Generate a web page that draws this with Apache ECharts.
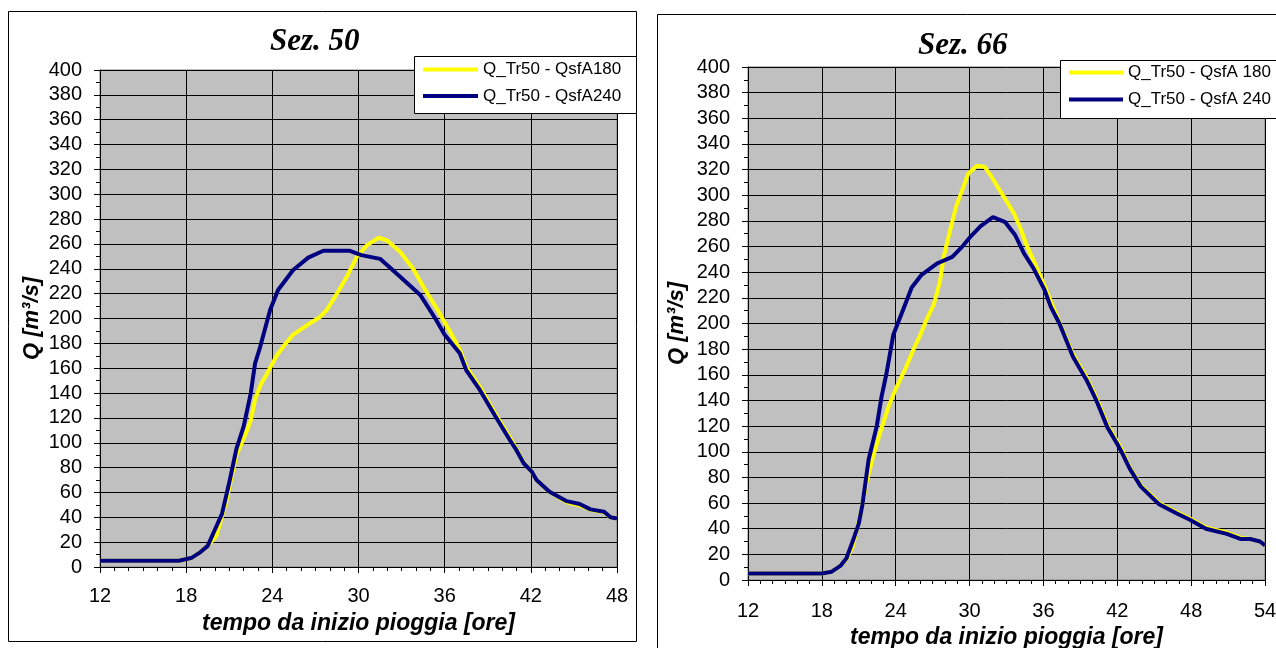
<!DOCTYPE html>
<html>
<head>
<meta charset="utf-8">
<script src="https://cdn.jsdelivr.net/npm/echarts@6/dist/echarts.min.js"></script>
<style>html,body{margin:0;padding:0;background:#fff;}#c{width:1276px;height:648px;}</style>
</head>
<body>
<div id="c"></div>
<script>
// ---- Data: Sez. 50 ----
const sez50Name180 = 'Q_Tr50 - QsfA180';
const sez50Name240 = 'Q_Tr50 - QsfA240';
const sez50T180 = [12, 17.5, 18.4, 19, 19.5, 20.1, 20.8, 21.5, 22.1, 22.5, 22.8, 23.2, 23.6, 24.3, 24.8, 25.45, 26.1, 26.6, 27.3, 27.8, 28.5, 29.2, 29.9, 30.6, 31.4, 31.97, 32.9, 33.8, 34.6, 35.45, 36.4, 37.05, 37.5, 38.45, 39.5, 40.55, 41, 41.5, 42.05, 42.4, 43.3, 44.5, 45.4, 46.15, 47.1, 47.55, 48];
const sez50Q180 = [5, 5, 7.5, 12, 17, 25, 53, 90, 106, 118, 135, 147, 155, 170, 178, 187, 192, 196, 201, 207, 220, 234, 250, 259, 265, 263, 253.7, 240, 224, 208, 189, 175, 161, 145, 124, 104, 95, 84, 77, 70, 60.6, 52, 49.5, 46, 44, 40, 39];
const sez50T240 = [12, 17.5, 18.4, 19, 19.5, 20, 20.5, 21, 21.5, 22, 22.5, 22.8, 23.15, 23.85, 24.4, 25.45, 26.5, 27.55, 29.4, 30.2, 31.5, 32.9, 34.3, 35.4, 36, 37.05, 37.5, 38.45, 39.5, 40.55, 41, 41.5, 42.05, 42.4, 43.3, 44.5, 45.4, 46.15, 47.1, 47.55, 48];
const sez50Q240 = [5, 5, 7.5, 12, 17, 30, 43, 68, 95, 113, 140, 164, 177, 207, 223, 239, 249, 254.5, 254.5, 251, 248, 233.6, 219, 199, 187, 172, 158.5, 142.5, 122, 102, 94, 83.5, 77, 70, 60.6, 53, 50.7, 46.4, 44.5, 40, 39];

// ---- Data: Sez. 66 ----
const sez66Name180 = 'Q_Tr50 - QsfA 180';
const sez66Name240 = 'Q_Tr50 - QsfA 240';
const sez66T180 = [12, 18, 18.8, 19.5, 20, 20.5, 21.1, 21.6, 22.1, 22.8, 23.45, 24.1, 24.8, 25.45, 25.9, 26.6, 27.1, 27.6, 27.9, 28.4, 28.9, 29.4, 29.9, 30.6, 31.25, 31.75, 32.25, 32.9, 33.6, 34.1, 34.6, 35.2, 36.07, 36.7, 37.3, 38.4, 39.5, 40.3, 41.2, 42, 42.4, 43, 43.9, 45.4, 46.8, 47.9, 49.2, 50.9, 52, 52.8, 53.6, 54];
const sez66Q180 = [5, 5, 6.5, 11, 16, 26, 49, 75, 94, 117, 136, 151, 165, 180, 189, 205, 215, 233, 252, 272, 291, 304, 317, 323, 322, 315, 307, 297, 286, 275, 262, 249, 230, 215, 201, 176, 158, 142, 121, 108, 101, 88, 74, 60, 53, 48, 41, 37, 33, 32, 30, 27];
const sez66T240 = [12, 18, 18.8, 19.5, 20, 20.5, 21, 21.3, 21.8, 22.46, 22.85, 23.25, 23.8, 24.45, 25.3, 26.1, 27.4, 28.6, 29.5, 30.1, 30.9, 31.9, 32.9, 33.7, 34.4, 35.2, 36.1, 36.6, 37.3, 38.4, 39.5, 40.3, 41.2, 42, 42.4, 43, 43.9, 45.4, 46.8, 47.9, 49.2, 50.9, 52, 52.8, 53.6, 54];
const sez66Q240 = [5, 5, 6.5, 11, 17, 30, 44, 59, 94, 120, 143, 161, 191, 207, 228, 238, 247, 252, 261, 268, 276, 283, 279, 269, 255, 243, 226, 213, 200, 174, 156, 140, 119, 106, 99, 87, 73, 59, 52, 47, 40, 36, 32, 32, 30, 27];

// ---- Text ----
const titles = ['Sez. 50', 'Sez. 66'];
const xName = 'tempo da inizio pioggia [ore]';
const yName = 'Q [m³/s]';
const xMaxes = [48, 54];

function pairs(t, q) { return t.map((x, i) => [x, q[i]]); }

const FONT = 'Liberation Sans, Arial, sans-serif';
const SERIF = 'Liberation Serif, Times New Roman, serif';
const YELLOW = '#FFFF00';
const NAVY = '#000080';

function xAxis(idx, nameGap, margin) {
  return {
    type: 'value', gridIndex: idx, min: 12, max: xMaxes[idx], interval: 6,
    name: xName, nameLocation: 'middle', nameGap: nameGap,
    nameTextStyle: { fontFamily: FONT, fontSize: 23, fontWeight: 'bold', fontStyle: 'italic', color: '#000' },
    axisLine: { show: true, onZero: false, lineStyle: { color: '#000', width: 1 } },
    axisTick: { show: true, inside: false, length: 6, lineStyle: { color: '#000' } },
    minorTick: { show: true, splitNumber: 6, length: 4, lineStyle: { color: '#000' } },
    axisLabel: { fontFamily: FONT, fontSize: 20, color: '#000', margin: margin },
    splitLine: { show: true, lineStyle: { color: '#000', width: 1 } },
    minorSplitLine: { show: false }
  };
}
function yAxis(idx, nameGap) {
  return {
    type: 'value', gridIndex: idx, min: 0, max: 400, interval: 20,
    name: yName, nameLocation: 'middle', nameGap: nameGap, nameRotate: 90,
    nameTextStyle: { fontFamily: FONT, fontSize: 22, fontWeight: 'bold', fontStyle: 'italic', color: '#000' },
    axisLine: { show: true, onZero: false, lineStyle: { color: '#000', width: 1 } },
    axisTick: { show: true, inside: false, length: 6, lineStyle: { color: '#000' } },
    minorTick: { show: true, splitNumber: 2, length: 4, lineStyle: { color: '#000' } },
    axisLabel: { fontFamily: FONT, fontSize: 20, color: '#000', margin: 18 },
    splitLine: { show: true, lineStyle: { color: '#000', width: 1 } },
    minorSplitLine: { show: false }
  };
}
function legend(names, left, top, itemWidth, gap) {
  return {
    data: names, orient: 'vertical', left: left, top: top, padding: 0,
    icon: 'rect', itemWidth: itemWidth, itemHeight: 4, itemGap: gap,
    selectedMode: false, z: 10,
    textStyle: { fontFamily: FONT, fontSize: 17, lineHeight: 18, color: '#000' }
  };
}
function line(name, x, y, data, color) {
  return {
    type: 'line', name: name, xAxisIndex: x, yAxisIndex: y, data: data,
    showSymbol: false, symbol: 'none', smooth: false, animation: false,
    lineStyle: { color: color, width: 4 }, itemStyle: { color: color }
  };
}

const chart = echarts.init(document.getElementById('c'), null, { renderer: 'canvas' });
chart.setOption({
  animation: false,
  backgroundColor: '#fff',
  title: [
    { text: titles[0], left: 270, top: 26, padding: 0,
      textStyle: { fontFamily: SERIF, fontSize: 31, fontWeight: 'bold', fontStyle: 'italic', color: '#000' } },
    { text: titles[1], left: 918, top: 30, padding: 0,
      textStyle: { fontFamily: SERIF, fontSize: 31, fontWeight: 'bold', fontStyle: 'italic', color: '#000' } }
  ],
  graphic: [
    { type: 'rect', z: 0, shape: { x: 8.5, y: 11.5, width: 628, height: 630 }, style: { fill: null, stroke: '#000', lineWidth: 1 } },
    { type: 'rect', z: 0, shape: { x: 657.5, y: 14.5, width: 640, height: 650 }, style: { fill: null, stroke: '#000', lineWidth: 1 } },
    { type: 'rect', z: 5, shape: { x: 414.5, y: 56.5, width: 222, height: 57 }, style: { fill: '#fff', stroke: '#000', lineWidth: 1 } },
    { type: 'rect', z: 5, shape: { x: 1060.5, y: 60.5, width: 230, height: 58 }, style: { fill: '#fff', stroke: '#000', lineWidth: 1 } }
  ],
  legend: [
    legend([sez50Name180, sez50Name240], 423, 60.5, 55, 8.5),
    legend([sez66Name180, sez66Name240], 1069, 63.5, 54, 9)
  ],
  grid: [
    { left: 100, top: 70, right: 659, bottom: 81, outerBoundsMode: 'none', containLabel: false, show: true, backgroundColor: '#C0C0C0', borderColor: '#808080', borderWidth: 1 },
    { left: 748, top: 67, right: 11, bottom: 68, outerBoundsMode: 'none', containLabel: false, show: true, backgroundColor: '#C0C0C0', borderColor: '#808080', borderWidth: 1 }
  ],
  xAxis: [xAxis(0, 45, 19), xAxis(1, 43, 21)],
  yAxis: [yAxis(0, 57), yAxis(1, 60)],
  series: [
    line(sez50Name180, 0, 0, pairs(sez50T180, sez50Q180), YELLOW),
    line(sez50Name240, 0, 0, pairs(sez50T240, sez50Q240), NAVY),
    line(sez66Name180, 1, 1, pairs(sez66T180, sez66Q180), YELLOW),
    line(sez66Name240, 1, 1, pairs(sez66T240, sez66Q240), NAVY)
  ]
});
</script>
</body>
</html>
